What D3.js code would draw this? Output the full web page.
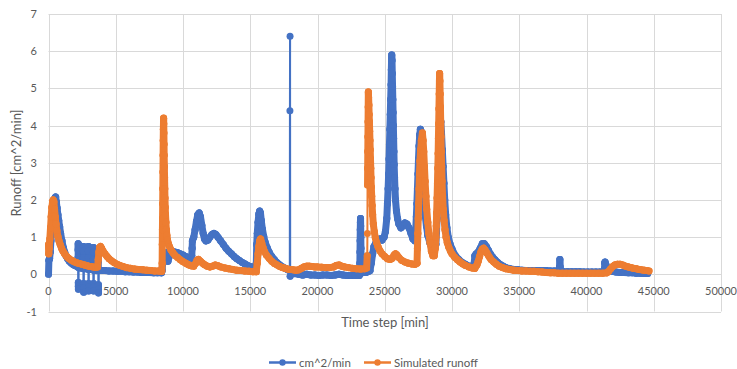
<!DOCTYPE html>
<html>
<head>
<meta charset="utf-8">
<script src="https://cdn.jsdelivr.net/npm/d3@7"></script>
<style>
  body { margin: 0; background: #ffffff; }
  svg { display: block; font-family: Lato, "Open Sans", sans-serif; }
</style>
</head>
<body>
<svg id="chart" width="737" height="369"></svg>
<script>
// Axis ticks
const xTicks = [0, 5000, 10000, 15000, 20000, 25000, 30000, 35000, 40000, 45000, 50000];
const yTicks = [-1, 0, 1, 2, 3, 4, 5, 6, 7];

// Series names
const seriesNames = ["cm^2/min", "Simulated runoff"];

// Measured runoff: [time step (min), runoff]
const measured = [
  [0,0],[30,0.38],[80,0.42],[130,0.6],[180,0.9],[230,1.2],[280,1.4],[330,1.6],[380,1.8],[430,1.95],[480,2.05],[530,2.08],[580,1.95],[640,1.78],[700,1.6],[760,1.45],[830,1.28],[900,1.1],[1000,0.9],[1100,0.72],[1200,0.6],[1300,0.5],[1420,0.42],[1550,0.35],[1700,0.3],[1850,0.26],[2000,0.23],[2150,0.21],
  [2200,0.2],[2203,0.45],[2206,0.65],[2209,0.82],[2212,0.68],[2218,-0.22],[2221,-0.32],[2224,-0.4],[2230,0.18],
  [2400,0.17],[2590,0.17],[2593,0.45],[2596,0.62],[2599,0.75],[2602,0.62],[2608,-0.25],[2611,-0.37],[2614,-0.48],[2620,0.15],
  [2800,0.15],[2960,0.15],[2963,0.45],[2966,0.62],[2969,0.75],[2972,0.62],[2978,-0.25],[2981,-0.35],[2984,-0.45],[2990,0.13],
  [3150,0.13],[3330,0.12],[3333,0.4],[3336,0.58],[3339,0.72],[3342,0.6],[3348,-0.25],[3351,-0.35],[3354,-0.45],[3360,0.11],
  [3530,0.1],[3700,0.1],[3703,0.35],[3706,0.6],[3709,0.5],[3715,-0.28],[3718,-0.4],[3721,-0.5],[3730,0.1],
  [3900,0.1],[4200,0.1],[4500,0.09],[4800,0.09],[5100,0.08],[5400,0.08],[5700,0.07],[6000,0.07],[6300,0.06],[6600,0.06],[6900,0.05],[7200,0.05],[7500,0.05],[7800,0.04],[8100,0.04],[8400,0.04],
  [8450,0.1],[8480,0.3],[8520,0.35],[8600,0.42],[8700,0.5],[8800,0.58],[8880,0.35],[8950,0.45],[9050,0.58],[9200,0.62],[9400,0.6],[9600,0.58],[9800,0.55],[10000,0.52],[10200,0.48],[10400,0.45],[10600,0.42],
  [10650,0.5],[10680,0.7],[10700,0.9],[10800,1.0],[10900,1.2],[11000,1.42],[11100,1.6],[11200,1.65],[11300,1.55],[11400,1.32],[11500,1.1],[11600,0.95],[11700,0.9],[11850,0.92],[12000,1.0],[12150,1.07],[12300,1.1],[12450,1.07],[12600,1.0],[12800,0.9],[13000,0.8],[13200,0.7],[13400,0.62],[13600,0.55],[13800,0.48],[14000,0.42],[14200,0.37],[14400,0.32],[14600,0.28],[14800,0.24],[15000,0.21],[15200,0.19],[15400,0.17],
  [15450,0.3],[15480,0.8],[15520,1.1],[15580,1.4],[15640,1.62],[15700,1.7],[15760,1.65],[15820,1.45],[15900,1.22],[16000,1.02],[16100,0.87],[16250,0.72],[16400,0.6],[16600,0.48],[16800,0.39],[17000,0.31],[17200,0.25],[17400,0.2],[17600,0.16],[17800,0.12],[17940,0.1],[17950,4.4],[17960,6.4],[17970,-0.05],[18100,0.04],[18300,0.02],
  [18600,0],[18900,-0.02],[19200,0],[19500,-0.02],[19800,-0.02],[20100,-0.03],[20400,-0.02],[20700,-0.02],[21000,-0.03],[21300,-0.02],[21600,0],[21900,-0.02],[22200,-0.03],[22500,-0.03],[22800,-0.03],[23100,-0.03],
  [23140,0],[23150,0.3],[23160,0.6],[23170,0.9],[23180,1.2],[23190,1.4],[23200,1.5],[23210,1.3],[23220,1.0],[23230,0.7],[23240,0.4],[23250,0.1],[23400,0.05],[23600,0.05],[23800,0.08],
  [23900,0.1],[24000,0.3],[24100,0.55],[24200,0.75],[24350,0.85],[24500,0.92],[24650,0.95],[24800,0.92],[24950,1.0],[25050,1.15],[25150,1.5],[25200,1.9],[25250,2.3],[25290,2.7],[25320,3.1],[25350,3.5],[25380,3.9],[25410,4.3],[25440,4.7],[25470,5.1],[25490,5.5],[25510,5.8],[25520,5.9],[25540,5.75],[25560,5.4],[25580,5.05],[25600,4.7],[25620,4.35],[25640,4.0],[25660,3.65],[25680,3.3],[25700,2.95],[25730,2.6],[25760,2.3],[25800,2.0],[25870,1.7],[25950,1.5],[26050,1.35],[26200,1.25],[26350,1.3],[26500,1.38],[26650,1.35],[26800,1.25],[26950,1.1],[27100,0.95],[27250,0.9],
  [27300,1.2],[27350,1.55],[27390,1.9],[27430,2.3],[27470,2.7],[27510,3.1],[27550,3.45],[27600,3.75],[27650,3.9],[27700,3.85],[27750,3.5],[27790,3.1],[27830,2.7],[27870,2.35],[27930,2.0],[28000,1.6],[28100,1.3],[28200,1.05],[28350,0.85],[28500,0.7],[28650,0.65],
  [28800,0.8],[28850,1.15],[28890,1.5],[28930,1.9],[28960,2.3],[28990,2.7],[29020,3.1],[29050,3.5],[29080,3.85],[29110,4.1],[29130,4.2],[29170,4.1],[29220,3.8],[29280,3.35],[29340,2.9],[29400,2.45],[29460,2.0],[29530,1.6],[29620,1.25],[29720,1.0],[29850,0.82],[30000,0.68],[30250,0.5],[30500,0.4],[30750,0.32],[31000,0.27],[31250,0.22],[31500,0.2],
  [31650,0.3],[31700,0.5],[31800,0.55],[31950,0.6],[32100,0.7],[32250,0.82],[32400,0.82],[32550,0.75],[32700,0.65],[32850,0.55],[33000,0.47],[33200,0.39],[33400,0.32],[33600,0.26],[33800,0.22],[34000,0.18],[34300,0.15],[34600,0.13],[34900,0.12],[35200,0.11],[35500,0.1],[35800,0.1],[36100,0.1],[36400,0.1],[36700,0.1],[37000,0.1],[37300,0.09],[37600,0.09],[37900,0.08],
  [38000,0.2],[38020,0.4],[38040,0.2],[38060,0.08],[38300,0.07],[38600,0.07],[38900,0.07],[39200,0.07],[39500,0.07],[39800,0.06],[40100,0.06],[40400,0.06],[40700,0.06],[41000,0.06],[41300,0.06],
  [41340,0.15],[41360,0.3],[41380,0.33],[41450,0.25],[41550,0.15],[41700,0.1],[41900,0.08],[42200,0.06],[42500,0.05],[42800,0.05],[43100,0.04],[43400,0.04],[43700,0.03],[44000,0.03],[44300,0.02],[44550,0.02]
];

// Simulated runoff: [time step (min), runoff]
const simulated = [
  [0,0.8],[20,0.55],[50,0.7],[100,0.95],[150,1.25],[200,1.55],[250,1.8],[300,1.95],[350,2.0],[400,1.95],[450,1.75],[500,1.55],[560,1.35],[620,1.18],[700,1.02],[780,0.9],[870,0.8],[970,0.7],[1080,0.62],[1200,0.55],[1350,0.48],[1500,0.43],[1700,0.38],[1900,0.34],[2100,0.31],[2300,0.29],[2500,0.27],[2700,0.25],[2900,0.23],[3100,0.21],[3300,0.2],[3500,0.19],[3650,0.2],
  [3700,0.4],[3750,0.6],[3800,0.72],[3870,0.75],[3950,0.7],[4050,0.63],[4200,0.55],[4350,0.48],[4500,0.42],[4700,0.36],[4900,0.31],[5100,0.27],[5300,0.24],[5550,0.21],[5800,0.18],[6100,0.16],[6400,0.14],[6700,0.13],[7000,0.12],[7300,0.11],[7600,0.1],[7900,0.09],[8200,0.09],[8420,0.08],
  [8450,0.3],[8460,0.8],[8470,1.2],[8480,1.5],[8490,1.9],[8500,2.3],[8510,2.75],[8520,3.2],[8530,3.6],[8540,3.9],[8550,4.1],[8560,4.2],[8570,4.05],[8580,3.8],[8590,3.5],[8600,3.2],[8615,2.9],[8630,2.6],[8645,2.3],[8660,2.05],[8680,1.8],[8700,1.6],[8730,1.4],[8760,1.2],[8800,1.05],[8850,0.92],[8920,0.82],[9000,0.74],[9100,0.66],[9250,0.58],[9400,0.51],[9600,0.45],[9800,0.39],[10000,0.34],[10200,0.3],[10400,0.26],[10600,0.23],[10800,0.22],
  [10950,0.3],[11050,0.38],[11150,0.4],[11300,0.35],[11450,0.3],[11600,0.26],[11800,0.22],[12000,0.2],[12200,0.22],[12400,0.25],[12600,0.23],[12800,0.2],[13100,0.17],[13400,0.15],[13700,0.13],[14000,0.11],[14300,0.1],[14600,0.09],[14900,0.08],[15200,0.07],[15450,0.07],
  [15520,0.3],[15580,0.55],[15640,0.75],[15700,0.9],[15770,0.95],[15850,0.85],[15950,0.72],[16050,0.62],[16200,0.52],[16400,0.43],[16600,0.35],[16800,0.29],[17000,0.25],[17200,0.21],[17400,0.18],[17600,0.16],[17800,0.14],[18000,0.13],[18200,0.12],[18400,0.11],
  [18600,0.12],[18800,0.16],[19000,0.2],[19200,0.22],[19400,0.22],[19600,0.21],[19800,0.2],[20000,0.2],[20300,0.19],[20600,0.18],[20900,0.18],[21200,0.2],[21400,0.24],[21600,0.25],[21800,0.22],[22000,0.2],[22300,0.18],[22600,0.16],[22900,0.15],[23200,0.14],[23500,0.15],[23650,0.17],
  [23700,0.5],[23710,1.1],[23720,2.4],[23730,2.85],[23740,3.3],[23750,3.7],[23760,4.1],[23770,4.5],[23780,4.9],[23800,4.75],[23820,4.55],[23840,4.3],[23860,4.1],[23880,3.85],[23900,3.6],[23920,3.35],[23940,3.1],[23960,2.85],[23980,2.6],[24000,2.35],[24030,2.1],[24060,1.85],[24100,1.6],[24150,1.35],[24220,1.15],[24300,0.98],[24400,0.85],[24500,0.74],[24650,0.63],[24800,0.55],[25000,0.48],[25200,0.42],[25400,0.4],
  [25550,0.43],[25700,0.52],[25800,0.55],[25900,0.52],[26050,0.45],[26250,0.38],[26500,0.33],[26750,0.3],[27000,0.28],[27250,0.27],
  [27400,0.3],[27430,0.7],[27460,1.1],[27490,1.5],[27520,1.9],[27550,2.3],[27580,2.7],[27620,3.05],[27670,3.35],[27720,3.6],[27800,3.8],[27850,3.6],[27900,3.3],[27950,2.9],[28000,2.5],[28060,2.1],[28120,1.75],[28200,1.4],[28280,1.1],[28370,0.85],[28470,0.62],[28580,0.5],[28680,0.5],
  [28760,0.7],[28800,1.0],[28830,1.3],[28860,1.65],[28890,2.05],[28920,2.45],[28945,2.85],[28970,3.25],[28990,3.65],[29010,4.05],[29030,4.45],[29050,4.85],[29065,5.2],[29080,5.4],[29100,5.2],[29120,4.85],[29140,4.5],[29160,4.1],[29180,3.7],[29200,3.3],[29230,2.9],[29260,2.5],[29300,2.1],[29350,1.75],[29410,1.45],[29480,1.2],[29560,1.0],[29650,0.85],[29760,0.73],[29880,0.63],[30000,0.55],[30200,0.46],[30400,0.39],[30600,0.33],[30800,0.28],[31000,0.24],[31250,0.2],[31500,0.17],[31700,0.16],
  [31850,0.25],[31950,0.35],[32050,0.48],[32150,0.6],[32250,0.68],[32350,0.7],[32450,0.66],[32600,0.57],[32750,0.48],[32900,0.4],[33100,0.33],[33300,0.27],[33500,0.22],[33750,0.18],[34000,0.15],[34300,0.13],[34600,0.11],[34900,0.1],[35200,0.09],[35500,0.09],[35800,0.08],[36100,0.08],[36400,0.07],[36700,0.06],[37000,0.05],[37300,0.04],[37600,0.04],[37900,0.03],
  [38200,0.03],[38500,0.03],[38800,0.03],[39100,0.03],[39400,0.03],[39700,0.03],[40000,0.03],[40300,0.03],[40600,0.03],[40900,0.03],[41200,0.03],[41500,0.04],
  [41650,0.08],[41800,0.15],[41950,0.21],[42100,0.25],[42300,0.27],[42500,0.27],[42700,0.25],[42900,0.22],[43100,0.2],[43300,0.18],[43500,0.16],[43700,0.15],[43900,0.13],[44100,0.12],[44300,0.11],[44500,0.1],[44650,0.09]
];

const colors = ["#4472C4", "#ED7D31"];
const gridColor = "#D9D9D9";
const textColor = "#595959";

const svg = d3.select("#chart");

const x = d3.scaleLinear().domain([0, 50000]).range([48.5, 721]);
const y = d3.scaleLinear().domain([-1, 7]).range([311.5, 14]);

// Gridlines
const grid = svg.append("g").attr("stroke", gridColor).attr("stroke-width", 1);
grid.selectAll("line.h").data(yTicks).join("line")
  .attr("class", "h")
  .attr("x1", x(0)).attr("x2", x(50000))
  .attr("y1", d => Math.round(y(d)) + 0.5).attr("y2", d => Math.round(y(d)) + 0.5);
grid.selectAll("line.v").data(xTicks).join("line")
  .attr("class", "v")
  .attr("y1", y(7)).attr("y2", y(-1))
  .attr("x1", d => Math.round(x(d)) + 0.5).attr("x2", d => Math.round(x(d)) + 0.5);

// Y tick labels
svg.append("g").selectAll("text").data(yTicks).join("text")
  .attr("x", 37)
  .attr("y", d => y(d) + 4)
  .attr("text-anchor", "end")
  .attr("font-size", 11)
  .attr("fill", textColor)
  .text(d => d);

// X tick labels, placed below the zero line
svg.append("g").selectAll("text").data(xTicks).join("text")
  .attr("x", d => x(d))
  .attr("y", y(0) + 21)
  .attr("text-anchor", "middle")
  .attr("font-size", 11)
  .attr("fill", textColor)
  .text(d => d);

// Axis titles
svg.append("text")
  .attr("transform", "translate(21,163) rotate(-90)")
  .attr("text-anchor", "middle")
  .attr("font-size", 13)
  .attr("fill", textColor)
  .text("Runoff [cm^2/min]");

svg.append("text")
  .attr("x", 385)
  .attr("y", 327)
  .attr("text-anchor", "middle")
  .attr("font-size", 13)
  .attr("fill", textColor)
  .text("Time step [min]");

// Series. Closely spaced samples merge their markers into a solid band,
// so short steps are stroked at marker width; long jumps keep the thin line.
const MARKER_R = 3.5;
const BAND_W = 7;
const THIN_W = 2;
const JOIN_PX = 20;

[measured, simulated].forEach((data, i) => {
  const g = svg.append("g");
  const segs = d3.pairs(data).map(([a, b]) => {
    const x1 = x(a[0]), y1 = y(a[1]), x2 = x(b[0]), y2 = y(b[1]);
    return { x1, y1, x2, y2, len: Math.hypot(x2 - x1, y2 - y1) };
  });
  g.selectAll("line").data(segs).join("line")
    .attr("x1", d => d.x1).attr("y1", d => d.y1)
    .attr("x2", d => d.x2).attr("y2", d => d.y2)
    .attr("stroke", colors[i])
    .attr("stroke-linecap", "round")
    .attr("stroke-width", d => d.len < JOIN_PX ? BAND_W : THIN_W);
  g.selectAll("circle").data(data).join("circle")
    .attr("cx", d => x(d[0]))
    .attr("cy", d => y(d[1]))
    .attr("r", MARKER_R)
    .attr("fill", colors[i]);
});

// Legend
const legendItems = [
  { name: seriesNames[0], color: colors[0], x0: 269 },
  { name: seriesNames[1], color: colors[1], x0: 364 }
];
const lg = svg.append("g");
legendItems.forEach(item => {
  lg.append("line")
    .attr("x1", item.x0).attr("x2", item.x0 + 27)
    .attr("y1", 362.5).attr("y2", 362.5)
    .attr("stroke", item.color).attr("stroke-width", 2.5);
  lg.append("circle")
    .attr("cx", item.x0 + 13.5).attr("cy", 362.5).attr("r", 3.2)
    .attr("fill", item.color);
  lg.append("text")
    .attr("x", item.x0 + 30)
    .attr("y", 366.5)
    .attr("font-size", 11.5)
    .attr("fill", textColor)
    .text(item.name);
});
</script>
</body>
</html>
